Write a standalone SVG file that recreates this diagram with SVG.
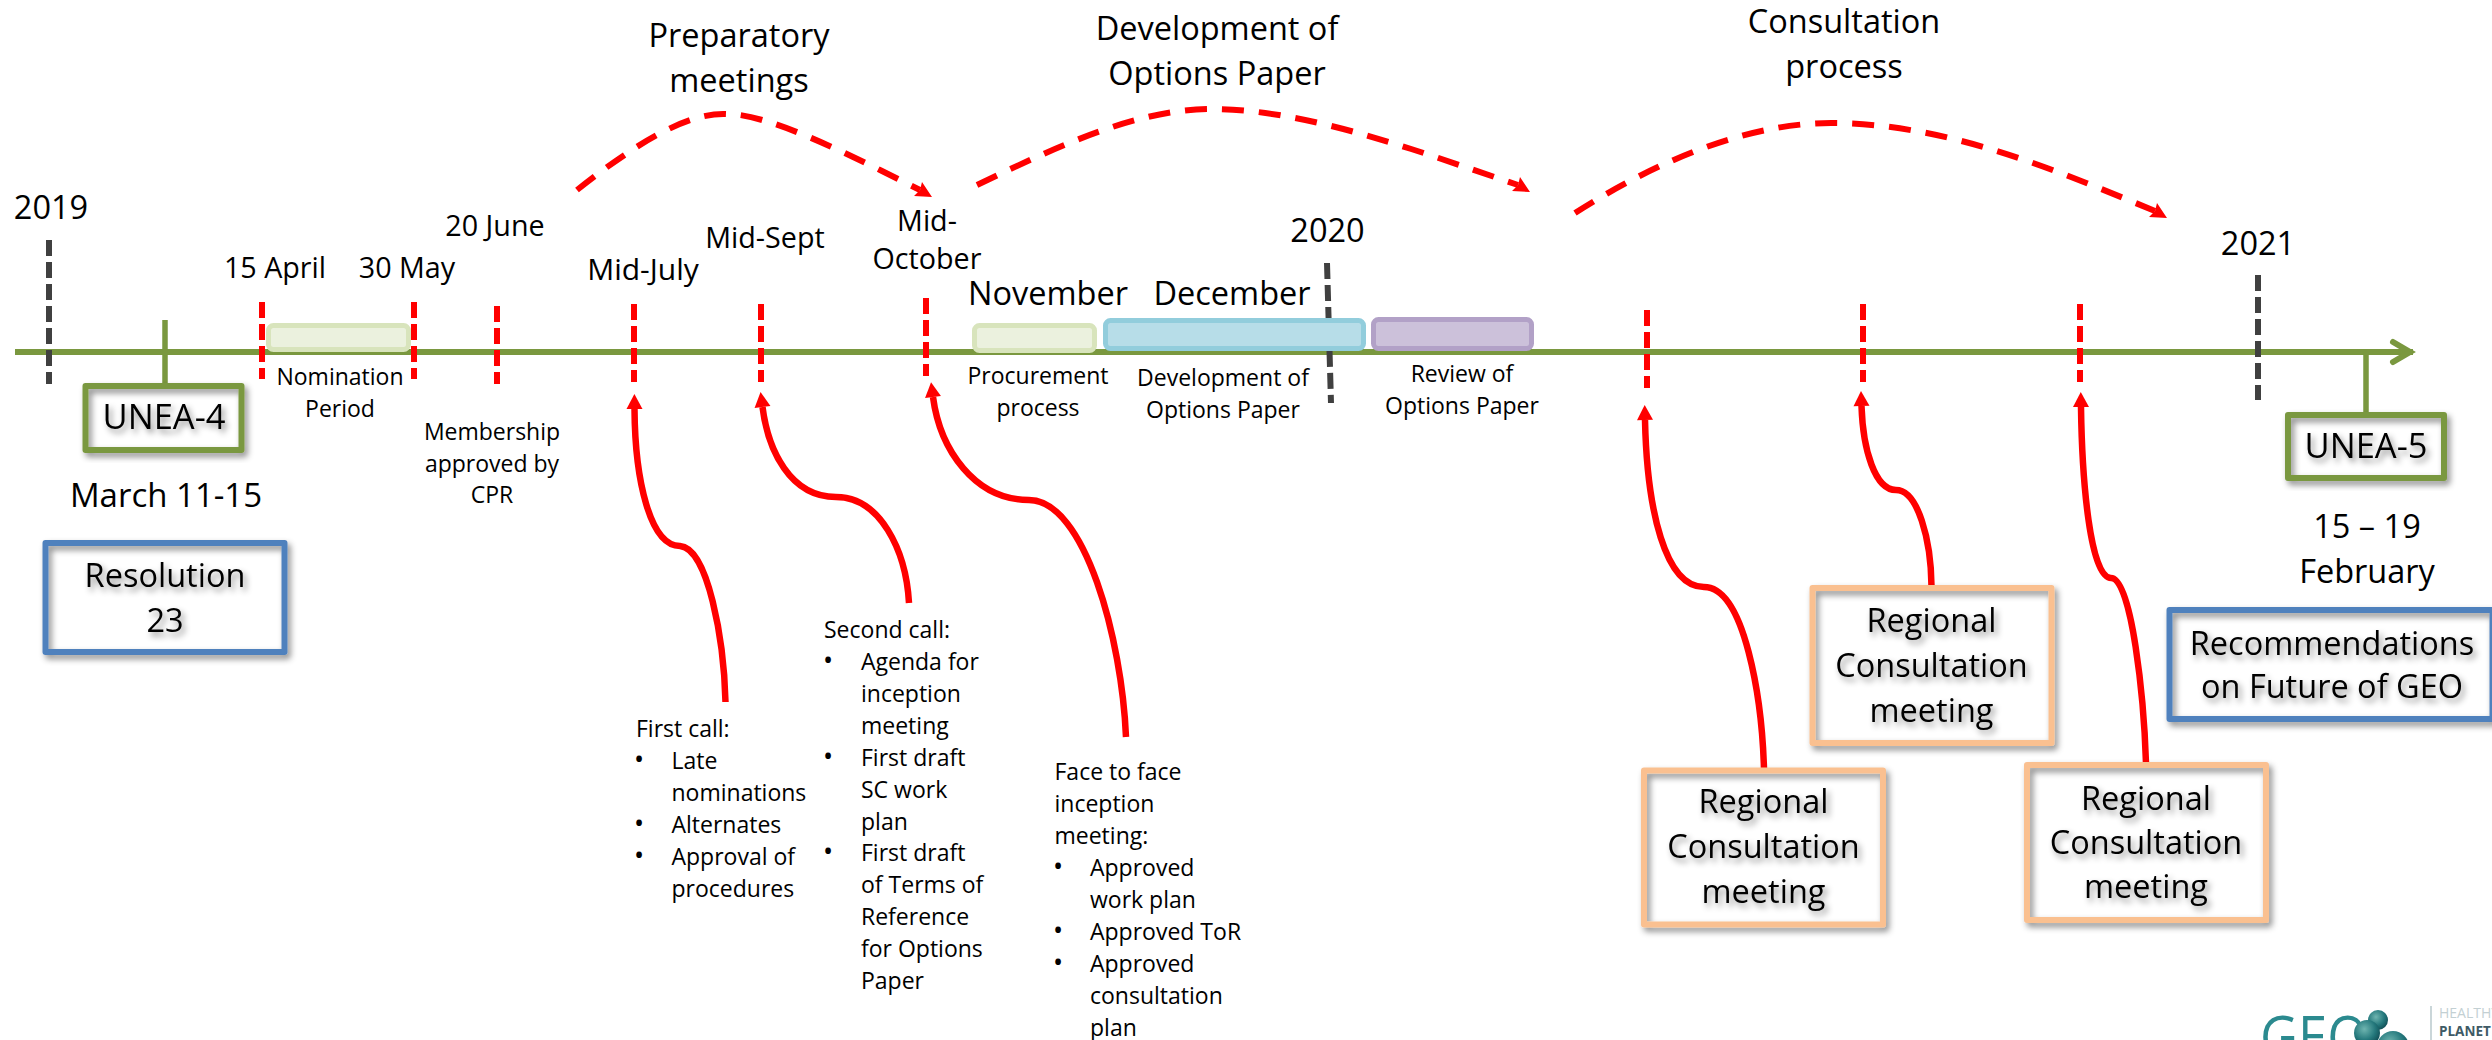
<svg xmlns="http://www.w3.org/2000/svg" width="2492" height="1040" viewBox="0 0 2492 1040">
<style>
text{font-family:"Open Sans","Noto Sans","Liberation Sans",sans-serif;fill:#000}
.h{font-size:32.5px;text-anchor:middle}
.u{font-size:34.5px;text-anchor:middle}
.d{font-size:28.7px;text-anchor:middle}
.s{font-size:23px;text-anchor:middle}
.b{font-size:23px}
.dot{font-size:27px}
.box{fill:none;stroke-width:6;stroke-linejoin:round}
.green{stroke:#7a983f}.blue{stroke:#4f81bd}.orange{stroke:#fac090}
.shadow{filter:url(#sh)}
.red{fill:none;stroke:#f00;stroke-width:6;stroke-dasharray:16 6}
.dark{fill:none;stroke:#404040;stroke-width:6;stroke-dasharray:16 6}
.call{fill:none;stroke:#f00;stroke-width:6.5;marker-end:url(#tri)}
.arc{fill:none;stroke:#f00;stroke-width:6;stroke-dasharray:22 15;marker-end:url(#head)}
.bar{stroke-width:5}
</style>
<defs>
<filter id="sh" x="-20%" y="-20%" width="140%" height="140%"><feDropShadow dx="3" dy="4" stdDeviation="3" flood-color="#000" flood-opacity="0.45"/></filter>
<marker id="tri" markerUnits="userSpaceOnUse" markerWidth="16" markerHeight="17" refX="0" refY="8" orient="auto" overflow="visible"><path d="M0 0L15 8L0 16Z" fill="#f00"/></marker>
<marker id="head" markerUnits="userSpaceOnUse" markerWidth="20" markerHeight="18" refX="6" refY="9" orient="0" overflow="visible"><path d="M8 1L18 16L0 15L6 9Z" fill="#f00"/></marker>
<marker id="chev" markerUnits="userSpaceOnUse" markerWidth="24" markerHeight="28" refX="3" refY="14" orient="auto" overflow="visible"><path d="M-17 4L0 14L-17 24" fill="none" stroke="#7a983f" stroke-width="6" stroke-linecap="round" stroke-linejoin="miter"/></marker>
<radialGradient id="sph" cx="40%" cy="35%" r="70%"><stop offset="0" stop-color="#6fb5b0"/><stop offset="0.6" stop-color="#24787c"/><stop offset="1" stop-color="#0f4a52"/></radialGradient>
</defs>

<g id="connectors">
<path d="M15 352H2413" fill="none" stroke="#7a983f" stroke-width="6" marker-end="url(#chev)"/>
<path d="M165 320V386M2366 352V414" fill="none" stroke="#7a983f" stroke-width="5.5"/>
<path class="dark" d="M49 240V384"/>
<path class="dark" d="M1327 263L1331 403"/>
<path class="dark" d="M2258 275V400"/>
<path class="red" d="M262 302V379"/>
<path class="red" d="M414 302V379"/>
<path class="red" d="M497 306V384"/>
<path class="red" d="M634 304V382"/>
<path class="red" d="M761 304V382"/>
<path class="red" d="M926 298V376"/>
<path class="red" d="M1647 310V388"/>
<path class="red" d="M1863 304V382"/>
<path class="red" d="M2080 304V382"/>
<path class="arc" d="M577 190C640 140 690 112 727 114C770 114 850 155 920 190"/>
<path class="arc" d="M977 185C1060 145 1140 108 1214 109C1310 110 1420 152 1518 185"/>
<path class="arc" d="M1575 213C1650 165 1745 122 1834 123C1950 124 2060 172 2155 211"/>
<path class="call" d="M725.5 702C724 640 708 548 680 546C650 546 635 480 634.5 409"/>
<path class="call" d="M909 603C906 550 880 497 836 497C790 497 768 450 762.5 407"/>
<path class="call" d="M1126 737C1122 640 1085 500 1029 500C975 500 940 450 933 397"/>
<path class="call" d="M1764 769C1762 700 1745 587 1704 587C1665 587 1647 510 1645 420"/>
<path class="call" d="M1931.5 586C1931 540 1918 490 1896 490C1875 490 1863 450 1861.5 406"/>
<path class="call" d="M2146 763C2144 700 2132 578 2111 578C2090 578 2082 480 2081 407"/>
</g>

<g id="phase-preparatory"><text class="h" x="739" y="47">Preparatory</text><text class="h" x="739" y="92">meetings</text></g>
<g id="phase-development"><text class="h" x="1217" y="40">Development of</text><text class="h" x="1217" y="85">Options Paper</text></g>
<g id="phase-consultation"><text class="h" x="1844" y="33">Consultation</text><text class="h" x="1844" y="78">process</text></g>

<g id="year-2019"><text class="h" x="51" y="219">2019</text></g>
<g id="year-2020"><text class="h" x="1327.5" y="242">2020</text></g>
<g id="year-2021"><text class="h" x="2258" y="255">2021</text></g>

<g id="date-15-april"><text class="d" x="275" y="278">15 April</text></g>
<g id="date-30-may"><text class="d" x="407" y="278">30 May</text></g>
<g id="date-20-june"><text class="d" x="495" y="236">20 June</text></g>
<g id="date-mid-july"><text class="d" x="643" y="280" style="font-size:30px">Mid-July</text></g>
<g id="date-mid-sept"><text class="d" x="765" y="248">Mid-Sept</text></g>
<g id="date-mid-october"><text class="d" x="927" y="231">Mid-</text><text class="d" x="927" y="269">October</text></g>
<g id="date-november"><text class="h" x="1048" y="305">November</text></g>
<g id="date-december"><text class="h" x="1232" y="305">December</text></g>

<g id="bar-nomination"><rect class="bar" x="268.5" y="325.5" width="140" height="24" rx="5" fill="#ebf1de" stroke="#d8e4bc"/><text class="s" x="340" y="385">Nomination</text><text class="s" x="340" y="417">Period</text></g>
<g id="bar-procurement"><rect class="bar" x="974.5" y="325.5" width="120" height="25" rx="5" fill="#ebf1de" stroke="#d8e4bc"/><text class="s" x="1038" y="384">Procurement</text><text class="s" x="1038" y="416">process</text></g>
<g id="bar-development"><rect class="bar" x="1105.5" y="320.5" width="258" height="28" rx="5" fill="#b7dde8" stroke="#92cddc"/><text class="s" x="1223" y="386">Development of</text><text class="s" x="1223" y="418">Options Paper</text></g>
<g id="bar-review"><rect class="bar" x="1373.5" y="319.5" width="158" height="29" rx="5" fill="#ccc1da" stroke="#b2a1c7"/><text class="s" x="1462" y="382">Review of</text><text class="s" x="1462" y="414">Options Paper</text></g>
<g id="note-membership"><text class="s" x="492" y="440">Membership</text><text class="s" x="492" y="472">approved by</text><text class="s" x="492" y="503">CPR</text></g>

<g id="node-unea-4"><g class="shadow"><rect class="box green" x="85.5" y="386" width="156" height="64"/><text class="u" x="164" y="429">UNEA-4</text></g></g>
<g id="date-march"><text class="h" x="166" y="507" style="font-size:33px">March 11-15</text></g>
<g id="node-resolution"><g class="shadow"><rect class="box blue" x="45.5" y="543" width="239" height="109"/><text class="h" x="165" y="587">Resolution</text><text class="h" x="165" y="632">23</text></g></g>

<g id="note-first-call">
<text class="b" x="636" y="737">First call:</text>
<text class="dot" x="634" y="769">•</text><text class="b" x="671.5" y="769">Late</text>
<text class="b" x="671.5" y="801">nominations</text>
<text class="dot" x="634" y="833">•</text><text class="b" x="671.5" y="833">Alternates</text>
<text class="dot" x="634" y="865">•</text><text class="b" x="671.5" y="865">Approval of</text>
<text class="b" x="671.5" y="897">procedures</text>
</g>
<g id="note-second-call">
<text class="b" x="824" y="638">Second call:</text>
<text class="dot" x="823" y="670">•</text><text class="b" x="861" y="670">Agenda for</text>
<text class="b" x="861" y="702">inception</text>
<text class="b" x="861" y="734">meeting</text>
<text class="dot" x="823" y="766">•</text><text class="b" x="861" y="766">First draft</text>
<text class="b" x="861" y="798">SC work</text>
<text class="b" x="861" y="830">plan</text>
<text class="dot" x="823" y="861">•</text><text class="b" x="861" y="861">First draft</text>
<text class="b" x="861" y="893">of Terms of</text>
<text class="b" x="861" y="925">Reference</text>
<text class="b" x="861" y="957">for Options</text>
<text class="b" x="861" y="989">Paper</text>
</g>
<g id="note-face-to-face">
<text class="b" x="1054.5" y="780">Face to face</text>
<text class="b" x="1054.5" y="812">inception</text>
<text class="b" x="1054.5" y="844">meeting:</text>
<text class="dot" x="1053" y="876">•</text><text class="b" x="1090" y="876">Approved</text>
<text class="b" x="1090" y="908">work plan</text>
<text class="dot" x="1053" y="940">•</text><text class="b" x="1090" y="940">Approved ToR</text>
<text class="dot" x="1053" y="972">•</text><text class="b" x="1090" y="972">Approved</text>
<text class="b" x="1090" y="1004">consultation</text>
<text class="b" x="1090" y="1036">plan</text>
</g>

<g id="node-regional-1"><g class="shadow"><rect class="box orange" x="1644" y="770.5" width="239" height="154"/><text class="h" x="1763.5" y="813">Regional</text><text class="h" x="1763.5" y="858">Consultation</text><text class="h" x="1763.5" y="903">meeting</text></g></g>
<g id="node-regional-2"><g class="shadow"><rect class="box orange" x="1812.5" y="588" width="239" height="155"/><text class="h" x="1931.5" y="632">Regional</text><text class="h" x="1931.5" y="677">Consultation</text><text class="h" x="1931.5" y="722">meeting</text></g></g>
<g id="node-regional-3"><g class="shadow"><rect class="box orange" x="2027" y="765" width="239" height="155"/><text class="h" x="2146" y="810">Regional</text><text class="h" x="2146" y="854">Consultation</text><text class="h" x="2146" y="898">meeting</text></g></g>

<g id="node-unea-5"><g class="shadow"><rect class="box green" x="2288" y="415" width="156" height="63"/><text class="u" x="2366" y="458">UNEA-5</text></g></g>
<g id="date-february"><text class="h" x="2367" y="538">15 – 19</text><text class="h" x="2367" y="583">February</text></g>
<g id="node-recommendations"><g class="shadow"><rect class="box blue" x="2169.5" y="610" width="323" height="109"/><text class="h" x="2332" y="655">Recommendations</text><text class="h" x="2332" y="698">on Future of GEO</text></g></g>

<g id="logo">
<text x="2260" y="1058" font-size="58" textLength="108" lengthAdjust="spacingAndGlyphs" style="fill:#2b8a8f">GEO</text>
<circle cx="2378" cy="1020" r="10" fill="url(#sph)"/>
<circle cx="2367" cy="1033" r="13" fill="url(#sph)"/>
<circle cx="2393" cy="1047" r="16" fill="url(#sph)"/>
<path d="M2431 1006V1040" stroke="#b8c8cc" stroke-width="1.5"/>
<text x="2439" y="1018" font-size="14" style="fill:#c3d0d3">HEALTHY</text>
<text x="2439" y="1036" font-size="13.5" font-weight="700" style="fill:#3f5b66">PLANET</text>
</g>
</svg>
